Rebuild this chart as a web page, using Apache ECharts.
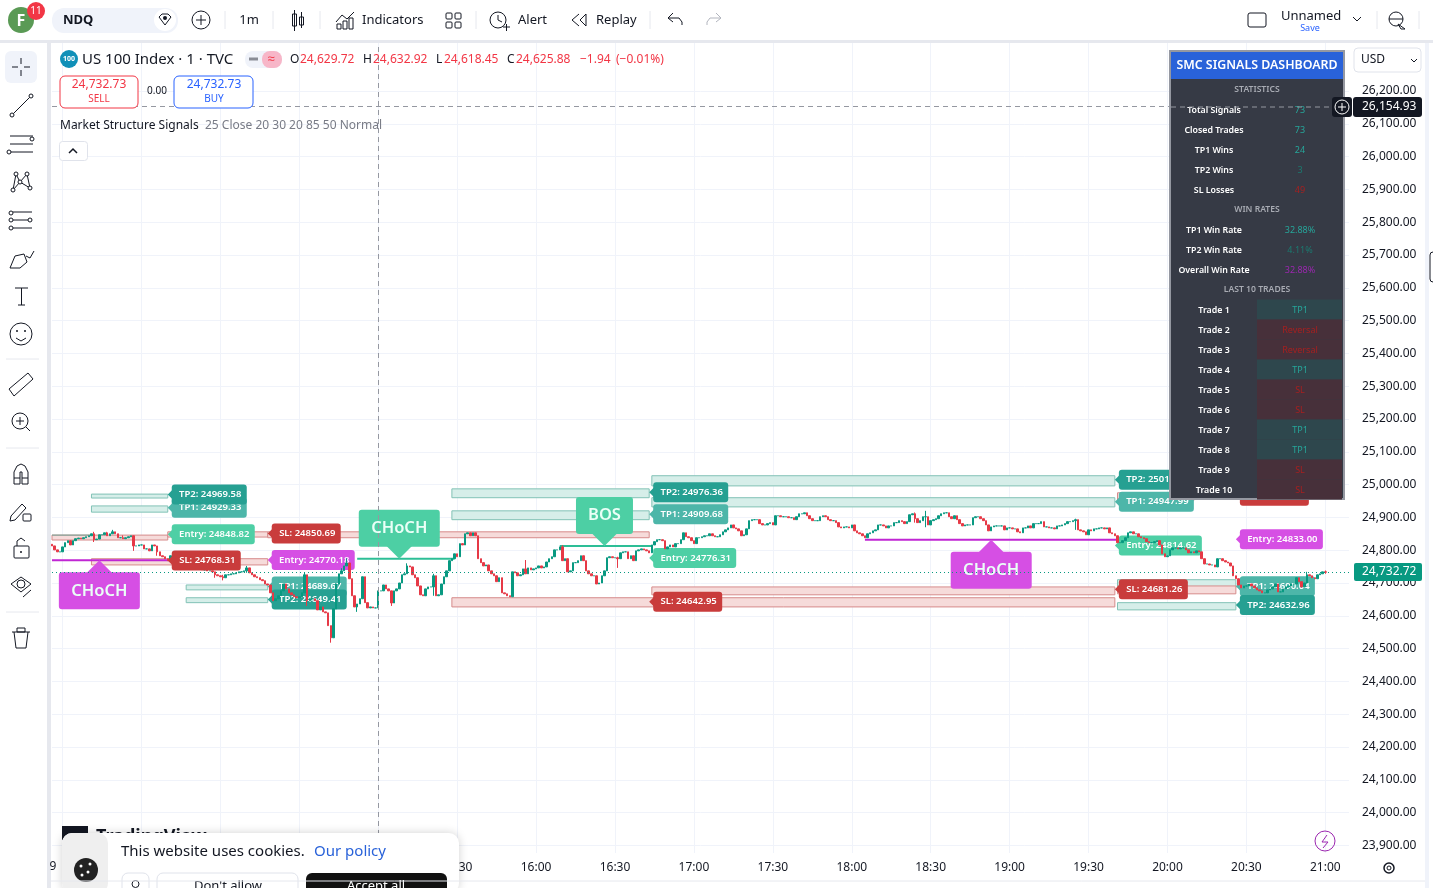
<!DOCTYPE html>
<html>
<head>
<meta charset="utf-8">
<title>US 100 Index</title>
<script src="https://cdn.jsdelivr.net/npm/echarts@6/dist/echarts.min.js"></script>
<style>
html,body{margin:0;padding:0;background:#fff;overflow:hidden}
#chart{width:1433px;height:888px}
</style>
</head>
<body>
<div id="chart"></div>
<script>
// price scale
var priceTicks = [23900,24000,24100,24200,24300,24400,24500,24600,24700,24800,24900,25000,25100,25200,25300,25400,25500,25600,25700,25800,25900,26000,26100,26200];

// 1 minute closes from 12:56 to 21:00
var closes = [
24813,24801,24795,24795,24810,24823,24829,24816,24829,24835,
24837,24835,24838,24841,24844,24850,24832,24834,24847,24847,
24853,24844,24850,24856,24850,24838,24838,24835,24838,24841,
24844,24813,24813,24816,24816,24804,24804,24798,24816,24813,
24795,24783,24780,24774,24768,24783,24786,24789,24780,24771,
24764,24758,24752,24743,24749,24743,24743,24740,24740,24737,
24737,24734,24725,24722,24719,24716,24725,24725,24728,24728,
24731,24734,24734,24737,24746,24731,24725,24719,24716,24710,
24707,24697,24694,24670,24646,24652,24661,24676,24697,24682,
24670,24664,24658,24655,24658,24670,24725,24646,24652,24652,
24646,24618,24627,24612,24609,24570,24533,24621,24697,24728,
24737,24752,24761,24713,24661,24627,24636,24652,24719,24640,
24624,
24627,24624,24624,24676,24676,24694,24682,24676,24639,24676,
24682,24700,24725,24728,24752,24749,24725,24716,24691,24664,
24661,24682,24688,24688,24722,24661,24664,24697,24719,24737,
24768,24774,24789,24780,24820,24816,24850,24853,24844,24853,
24844,24774,24762,24752,24755,24737,24728,24722,24704,24716,
24670,24667,24661,24658,24734,24731,24722,24725,24743,24728,
24746,24740,24743,24746,24752,24746,24749,24764,24774,24780,
24801,24801,24810,24768,24774,24734,24737,24762,24762,24768,
24783,24768,24737,24728,24722,24722,24697,24700,24722,24737,
24777,24780,24777,24777,24774,24792,24795,24795,24774,24783,
24768,24798,24801,24804,24801,24798,24792,24816,24826,24832,
24832,24829,24804,24810,24816,24810,24820,24820,24832,24853,
24841,24838,
24829,24820,24838,24838,24841,24844,24844,24850,24844,24841,
24841,24847,24856,24862,24868,24877,24868,24865,24859,24844,
24847,24865,24890,24893,24893,24893,24881,24877,24877,24881,
24884,24877,24905,24905,24902,24902,24902,24899,24899,24893,
24902,24911,24911,24914,24905,24896,24890,24890,24890,24902,
24905,24902,24893,24890,24890,24884,24871,24868,24871,24871,
24868,24877,24859,24853,24850,24844,24838,24850,24853,24859,
24862,24877,24877,24874,24868,24874,24874,24884,24884,24890,
24887,24881,24887,24908,24911,24896,24884,24890,24902,24902,
24877,24890,24893,24896,24905,24911,24914,24914,24902,24896,
24905,24893,24881,24874,24877,24877,24877,24899,24902,24902,
24896,24890,24877,24859,24871,24874,24874,24874,24874,24862,
24868,
24868,24865,24865,24856,24853,24868,24868,24874,24868,24881,
24881,24881,24887,24871,24871,24868,24868,24865,24874,24874,
24877,24881,24887,24887,24890,24893,24862,24859,24856,24847,
24862,24859,24865,24865,24868,24868,24865,24868,24853,24850,
24844,24823,24823,24829,24838,24853,24856,24850,24850,24841,
24838,24835,24826,24823,24823,24826,24829,24816,24789,24780,
24783,24801,24807,24807,24804,24807,24807,24801,24792,24795,
24792,24798,24795,24774,24758,24758,24755,24755,24749,24774,
24774,24768,24764,24761,24752,24722,24713,24694,24685,24691,
24691,24697,24691,24685,24679,24676,24670,24670,24679,24682,
24688,24697,24673,24673,24682,24688,24691,24697,24697,24716,
24704,24688,24700,24725,24722,24716,24713,24725,24728,24734,
24733
];
var firstOpen = 24818;

// wicks that stand out from the bodies
var wickBars  = [16,21,23,27,31,40,62,65,74,96,97,106,110,112,116,129,135,145,180,194,215,328,332,389,477,484];
var wickLows  = [24825,24844,24850,24835,24798,24783,24716,24708,24731,24670,24630,24518,24730,24752,24612,24630,24752,24661,24728,24768,24746,24884,24870,24862,24716,24728];
var wickHighs = [24856,24856,24862,24845,24816,24813,24725,24725,24752,24731,24725,24570,24745,24775,24627,24676,24760,24728,24770,24815,24780,24915,24920,24896,24734,24738];

var lastPrice = 24732.72;
var crossPrice = 26154.93;
var crossTime = '15:00';

// take profit / stop boxes
var boxStart  = ['13:11','13:11','12:56','13:40','13:11','13:47','13:47','14:18','15:28','15:28','15:28','16:44','16:44','16:44','19:41','19:41','19:41','19:41'];
var boxEnd    = ['13:40','13:40','13:40','14:18','14:18','14:18','14:18','16:43','16:43','16:43','19:40','19:40','19:40','19:40','20:26','20:26','20:26','20:10'];
var boxTop    = [24971,24935,24846,24856,24774,24694,24655,24856,24987,24920,24655,25027,24960,24688,24710,24691,24640,24975];
var boxBottom = [24959,24916,24831,24840,24755,24679,24640,24838,24960,24893,24627,24996,24932,24664,24685,24667,24618,24951];
var boxKind   = ['tp','tp','sl','sl','sl','tp','tp','sl','tp','tp','sl','tp','tp','sl','tp','sl','tp','sl'];

// level tags
var tagText  = ['TP1: 24929.33','TP2: 24969.58','Entry: 24848.82','SL: 24850.69','Entry: 24770.18','TP1: 24689.67','TP2: 24649.41','TP1: 24909.68','TP2: 24976.36','Entry: 24776.31','SL: 24642.95','TP1: 24947.99','TP2: 25014.67','Entry: 24814.62','SL: 24681.26','SL: 24966.27','Entry: 24833.00','TP1: 24690.04','TP2: 24632.96'];
var tagTime  = ['13:40','13:40','13:40','14:18','14:18','14:18','14:18','16:43','16:43','16:43','16:43','19:40','19:40','19:40','19:40','20:26','20:26','20:26','20:26'];
var tagPrice = [24929.33,24969.58,24848.82,24850.69,24770.18,24689.67,24649.41,24909.68,24976.36,24776.31,24642.95,24947.99,25014.67,24814.62,24681.26,24966.27,24833.00,24690.04,24632.96];
var tagKind  = ['tp1','tp2','entry','sl','short','tp1','tp2','tp1','tp2','entry','sl','tp1','tp2','entry','sl','sl','short','tp1','tp2'];
// this one sits above the candles
var topTagText = ['SL: 24768.31'], topTagTime = ['13:40'], topTagPrice = [24768.31], topTagKind = ['sl'];

// structure lines
var lineStart = ['12:56','12:56','14:52','16:09','18:05'];
var lineEnd   = ['13:12','13:41','15:29','16:44','19:41'];
var linePrice = [24846,24769,24774,24813,24832];
var lineKind  = ['base','bear','bull','bull','bear'];

// CHoCH / BOS callouts
var callText  = ['CHoCH','CHoCH','BOS','CHoCH'];
var callTime  = ['13:14','15:08','16:26','18:53'];
var callPrice = [24769,24774,24813,24832];
var callKind  = ['bear','bull','bull','bear'];

// dashboard
var statLabels = ['Total Signals','Closed Trades','TP1 Wins','TP2 Wins','SL Losses'];
var statValues = ['73','73','24','3','49'];
var rateLabels = ['TP1 Win Rate','TP2 Win Rate','Overall Win Rate'];
var rateValues = ['32.88%','4.11%','32.88%'];
var tradeLabels = ['Trade 1','Trade 2','Trade 3','Trade 4','Trade 5','Trade 6','Trade 7','Trade 8','Trade 9','Trade 10'];
var tradeResults = ['TP1','Reversal','Reversal','TP1','SL','SL','TP1','TP1','SL','SL'];

var FONT = '"Noto Sans", sans-serif';
var GREEN = '#089981', RED = '#f23645', INK = '#131722', CROSS = '#9598a1';
var TAG_COLORS = {tp1:'#4db6a9', tp2:'#26a092', entry:'#4ecfa5', sl:'#c93c3c', short:'#d64fe4'};
var TAG_WIDTHS = {tp1:79, tp2:79, entry:87, sl:73, short:87};

// time axis, one bar per minute
var times = [];
for (var m = 12*60+56; m <= 21*60+9; m++) {
  times.push(('0'+Math.floor(m/60)).slice(-2)+':'+('0'+(m%60)).slice(-2));
}
function timeIdx(t){ return times.indexOf(t); }

var candles = closes.map(function(c,i){
  var o = i ? closes[i-1] : firstOpen;
  var w = wickBars.indexOf(i);
  var lo = Math.min(o,c), hi = Math.max(o,c);
  if (w >= 0) { lo = Math.min(lo,wickLows[w]); hi = Math.max(hi,wickHighs[w]); }
  return [o,c,lo,hi];
});

function isHalfHour(i,v){ return v.slice(-2)==='00' || v.slice(-2)==='30'; }

function renderBox(params,api){
  var a = api.coord([api.value(0),api.value(2)]);
  var b = api.coord([api.value(1),api.value(3)]);
  var tp = boxKind[params.dataIndex]==='tp';
  return {type:'rect',shape:{x:a[0],y:a[1],width:b[0]-a[0],height:b[1]-a[1]},
    style:{fill:tp?'#d6eee9':'#f6dbda',stroke:tp?'#82c2b6':'#d68b8b',lineWidth:1}};
}

function makeTagRenderer(texts,kinds){
  return function(params,api){
    var p = api.coord([api.value(0),api.value(1)]);
    var kind = kinds[params.dataIndex], w = TAG_WIDTHS[kind], col = TAG_COLORS[kind];
    return {type:'group',children:[
      {type:'polygon',shape:{points:[[p[0],p[1]],[p[0]+6,p[1]-6],[p[0]+6,p[1]+6]]},style:{fill:col}},
      {type:'rect',shape:{x:p[0]+4,y:p[1]-10,width:w-4,height:20,r:3},style:{fill:col}},
      {type:'text',x:p[0]+(w+6)/2,y:p[1],style:{text:texts[params.dataIndex],fill:'#fff',font:'600 9.5px '+FONT,align:'center',verticalAlign:'middle'}}
    ]};
  };
}

function renderLine(params,api){
  var a = api.coord([api.value(0),api.value(2)]);
  var b = api.coord([api.value(1),api.value(2)]);
  var kind = lineKind[params.dataIndex];
  var col = kind==='bear' ? '#c026d3' : kind==='bull' ? '#2dbe96' : '#6fa89a';
  return {type:'line',shape:{x1:a[0],y1:a[1],x2:b[0],y2:b[1]},style:{stroke:col,lineWidth:kind==='base'?1:2}};
}

function renderCall(params,api){
  var p = api.coord([api.value(0),api.value(1)]);
  var i = params.dataIndex, bear = callKind[i]==='bear';
  var w = callText[i]==='BOS' ? 57 : 81, h = 37;
  var col = bear ? '#d64fe4' : '#4dcfa4';
  var dir = bear ? 1 : -1;
  var near = p[1]+dir*12, mid = near+dir*h/2;
  return {type:'group',children:[
    {type:'polygon',shape:{points:[[p[0],p[1]],[p[0]-13,near+dir],[p[0]+13,near+dir]]},style:{fill:col}},
    {type:'rect',shape:{x:p[0]-w/2,y:mid-h/2,width:w,height:h,r:3},style:{fill:col}},
    {type:'text',x:p[0],y:mid,style:{text:callText[i],fill:'#eafff7',font:'600 16.5px '+FONT,align:'center',verticalAlign:'middle'}}
  ]};
}

// chrome helpers
var ui = [];
var Z = 100;
function T(s,x,y,size,col,align,weight){
  ui.push({type:'text',z:Z,silent:true,x:x,y:y+1,style:{text:s,fill:col||INK,font:(weight||'400')+' '+size+'px '+FONT,align:align||'left',verticalAlign:'middle'}});
}
function L(x1,y1,x2,y2,col,w,dash){
  ui.push({type:'line',z:Z,silent:true,shape:{x1:x1,y1:y1,x2:x2,y2:y2},style:{stroke:col||INK,lineWidth:w||1,lineDash:dash||null}});
}
function R(x,y,w,h,fill,stroke,r,lw,shadow){
  ui.push({type:'rect',z:Z,silent:true,shape:{x:x,y:y,width:w,height:h,r:r||0},style:{fill:fill||'none',stroke:stroke||null,lineWidth:lw||1,shadowBlur:shadow||0,shadowColor:'rgba(0,0,0,0.18)'}});
}
function C(x,y,r,fill,stroke,lw){
  ui.push({type:'circle',z:Z,silent:true,shape:{cx:x,cy:y,r:r},style:{fill:fill||'none',stroke:stroke||null,lineWidth:lw||1}});
}
function P(pts,col,fill,w){
  ui.push({type:fill?'polygon':'polyline',z:Z,silent:true,shape:{points:pts},style:{stroke:col||INK,fill:fill||'none',lineWidth:w||1}});
}

// top bar
R(0,40,1433,3,'#e6e8ee');
R(47,40,4,848,'#e6e8ee');
C(21,20,13,'#5a9a55');
T('F',21,20,16,'#fff','center','700');
C(36,11,9,'#f23645');
T('11',36,10,10,'#fff','center');
R(52,8,126,25,'#f0f3fa',null,12);
T('NDQ',63,19,13,INK,'left','700');
C(165,20,11,'#fff');
P([[159,17],[162,14],[168,14],[171,17],[165,25],[159,17]],INK);
C(165,18,2,INK);
C(201,20,9,null,INK);
L(196,20,206,20); L(201,15,201,25);
L(225,11,225,29,'#e6e8ee');
T('1m',249,19,13,INK,'center');
L(273,11,273,29,'#e6e8ee');
R(292.5,14,4,12,null,INK); L(294.5,10,294.5,31); R(299.5,17,4,8,null,INK); L(301.5,12,301.5,28);
L(320,11,320,29,'#e6e8ee');
P([[336,22],[342,15],[347,19],[354,12]],INK);
R(337,24,4,5,null,INK); R(343,21,4,8,null,INK); R(349,18,4,11,null,INK);
T('Indicators',362,19,13,INK);
R(446,13,6,6,null,INK,1); R(455,13,6,6,null,INK,1); R(446,22,6,6,null,INK,1); R(455,22,6,6,null,INK,1);
L(476,11,476,29,'#e6e8ee');
C(498,20,8,null,INK); P([[498,15],[498,20],[502,22]],INK); L(503,27,510,27); L(506.5,24,506.5,31);
T('Alert',518,19,13,INK);
P([[579,14],[572,20],[579,26]],INK); P([[586,14],[580,20],[586,26],[586,14]],INK);
T('Replay',596,19,13,INK);
L(650,11,650,29,'#e6e8ee');
P([[673,13],[668,18],[673,22]],INK); P([[668,18],[679,18],[682,22],[682,25]],INK);
P([[716,13],[721,18],[716,22]],'#b2b5be'); P([[721,18],[710,18],[707,22],[707,25]],'#b2b5be');
R(1248,13,18,14,null,INK,2);
T('Unnamed',1281,15,13,INK);
T('Save',1310,27,9,'#2962ff','center');
P([[1353,17],[1357,21],[1361,17]],INK);
L(1377,11,1377,29,'#e6e8ee');
C(1396,19,7,null,INK); L(1389,19,1403,19); P([[1398,24],[1405,29],[1401,29],[1398,24]],INK);
L(1419,11,1419,29,'#e6e8ee');

// left tools
R(5,51,32,32,'#f0f3fa',null,6);
L(21,58,21,64); L(21,70,21,76); L(12,67,18,67); L(24,67,30,67);
L(13,114,30,97); C(12,115,2,'#fff',INK); C(31,96,2,'#fff',INK);
L(10,136,33,136); L(10,144,33,144); L(10,152,33,152); C(32,139,2,'#fff',INK); C(9,152,2,'#fff',INK);
P([[13,190],[16,174],[20,182],[27,174],[30,188],[20,182],[13,190]],INK); C(16,174,2,'#fff',INK); C(27,174,2,'#fff',INK); C(13,190,2,'#fff',INK); C(30,188,2,'#fff',INK); C(20,182,2,'#fff',INK);
L(13,212,32,212); L(13,220,32,220); L(13,228,32,228); C(11,213,2,'#fff',INK); C(11,220,2,'#fff',INK); C(30,220,2,'#fff',INK); C(11,228,2,'#fff',INK);
P([[10,268],[15,256],[24,254],[27,262],[20,268],[10,268]],INK); P([[26,256],[30,258],[34,251]],INK);
L(15,288,28,288); L(21.5,288,21.5,305); L(18,305,25,305);
C(21,334,11,null,INK); C(17,331,1,INK); C(25,331,1,INK); P([[16,338],[21,341],[26,338]],INK);
L(6,359,39,359,'#e6e8ee');
P([[9,389],[28,373],[33,379],[14,396],[9,389]],INK);
C(20,421,8,null,INK); L(16,421,24,421); L(20,417,20,425); L(26,427,30,431);
L(6,448,39,448,'#e6e8ee');
P([[14,484],[14,472],[17,466],[21,464],[25,466],[28,472],[28,484],[22,484],[22,472],[20,472],[20,484],[14,484]],INK); L(14,478,20,478); L(22,478,28,478);
P([[11,516],[22,504],[26,508],[15,520],[10,521],[11,516]],INK); R(23,514,8,7,null,INK,1);
R(14,546,15,12,null,INK,1); P([[17,546],[17,541],[21,538],[25,541]],INK); C(21,552,1,INK);
P([[11,584],[21,577],[31,584],[21,592],[11,584]],INK); C(21,584,4,null,INK); L(23,597,31,590);
L(6,612,39,612,'#e6e8ee');
L(12,632,30,632); R(17,628,8,4,null,INK); P([[14,632],[16,648],[26,648],[28,632]],INK);

// legend
C(69,59,9,'#1090b8');
T('100',69,58,7,'#fff','center','700');
T('US 100 Index \u00b7 1 \u00b7 TVC',82,59,15,INK);
R(245,51,37,17,'#f0f3fa',null,8); R(262,51,20,17,'#f7b6c8',null,8);
L(249,59,258,59,'#8a8d96',3);
T('\u2248',271,58,13,RED,'center');
var ohlcLetters = ['O','H','L','C'], ohlcValues = ['24,629.72','24,632.92','24,618.45','24,625.88'], ohlcX = [290,363,436,507], ohlcGap = [10,10,8,9];
ohlcLetters.forEach(function(s,i){ T(s,ohlcX[i],59,12,INK); T(ohlcValues[i],ohlcX[i]+ohlcGap[i],59,12,RED); });
T('\u22121.94',580,59,12,RED);
T('(\u22120.01%)',616,59,12,RED);
R(60,76,78,32,'#fff',RED,5);
T('24,732.73',99,84,12,RED,'center'); T('SELL',99,98,10,RED,'center');
T('0.00',157,90,10,INK,'center');
R(174,76,79,32,'#fff','#2962ff',5);
T('24,732.73',214,84,12,'#2962ff','center'); T('BUY',214,98,10,'#2962ff','center');
T('Market Structure Signals',60,125,12,INK);
T('25 Close 20 30 20 85 50 Normal',205,125,12,'#787b86');
R(59.5,141.5,28,19,'#fff','#e0e3eb',3);
P([[69,153],[73,149],[77,153]],INK,null,1.5);

// right side
R(1354,48,67,24,'#fff','#e0e3eb',4);
T('USD',1361,59,12,INK);
P([[1411,59],[1414,62],[1417,59]],INK);
R(1425,43,4,845,'#f0f3fa');
R(1430,252,6,30,'#fff',INK,4);
R(1354,563,68,18,GREEN,null,2);
T('24,732.72',1362,571,12,'#fff');
C(1325,841,10,null,'#9c27b0');
P([[1327,835],[1322,842],[1328,842],[1323,848]],'#9c27b0');
C(1389,868,5,null,INK,1.5); C(1389,868,2,null,INK);

// dashboard
R(1170,51,174,448,'#363a45','#9598a1',0,2);
R(1171,52,172,27,'#2962d9');
T('SMC SIGNALS DASHBOARD',1257,64,12.4,'#fff','center','600');
function rowY(n){ return 89+20*n; }
function sectionRow(s,n){ T(s,1257,rowY(n),8.6,'#a8abb3','center','600'); }
function row(label,value,n,col){
  T(label,1214,rowY(n),8.8,'#fff','center','600');
  T(value,1300,rowY(n),9,col,'center');
}
sectionRow('STATISTICS',0);
var statColors = ['#26a69a','#26a69a','#26a69a','#1b7a70','#a52020'];
statLabels.forEach(function(s,i){ row(s,statValues[i],i+1,statColors[i]); });
sectionRow('WIN RATES',6);
var rateColors = ['#26a69a','#1b7a70','#9c27b0'];
rateLabels.forEach(function(s,i){ row(s,rateValues[i],i+7,rateColors[i]); });
sectionRow('LAST 10 TRADES',10);
tradeLabels.forEach(function(s,i){
  var win = tradeResults[i]==='TP1';
  R(1257,rowY(i+11)-9.5,85,20,win?'#2e474d':'#47303a');
  row(s,tradeResults[i],i+11,win?'#26a69a':'#a52020');
});

// crosshair on top of the dashboard, with its price button
L(1171,107,1332,107,CROSS,1,[5,4]);
R(1332,97,20,20,'#131722',null,3);
C(1342,107,7,null,'#fff');
L(1338,107,1346,107,'#fff'); L(1342,103,1342,111,'#fff');
R(1353,97,69,20,'#131722',null,3);
T('26,154.93',1362,106,12,'#fff');

// watermark and cookie notice
R(62,826,26,14,INK);
T('TradingView',96,836,18,INK,'left','700');
R(62,833,397,60,'#fff',null,10,1,10);
R(62,833,46,60,'#efefef',null,10);
C(86,870,12,'#222');
C(81,866,1.5,'#fff'); C(88,872,1.5,'#fff'); C(82,875,1.5,'#fff'); C(90,864,1.5,'#fff');
T('This website uses cookies.',121,851,15,INK);
T('Our policy',314,851,15,'#2962d9');
R(122,873,27,24,'#fff','#e0e3eb',6);
C(135.5,884,3.5,null,INK);
R(157,873,141,24,'#fff','#e0e3eb',6);
T("Don't allow",228,885,13,INK,'center');
R(306,873,141,24,'#111',null,6);
T('Accept all',376,885,13,'#fff','center');
T('9',53,866,12,INK,'center');
L(51,881,1425,881,'#e6e8ee');

var chart = echarts.init(document.getElementById('chart'));
chart.setOption({
  animation:false,
  backgroundColor:'#fff',
  grid:{left:52,right:84,top:43,bottom:35},
  xAxis:{
    type:'category',data:times,boundaryGap:false,
    axisLine:{show:false},axisTick:{show:false},
    axisLabel:{margin:9,color:INK,fontSize:12,fontFamily:FONT,
      interval:function(i,v){ return i>=timeIdx('15:30') && isHalfHour(i,v); }},
    splitLine:{show:true,interval:isHalfHour,lineStyle:{color:'#f0f3fa'}}
  },
  yAxis:{
    type:'value',position:'right',min:23876.8,max:26346.3,scale:true,
    axisLine:{show:false},
    axisTick:{show:false,customValues:priceTicks},
    axisLabel:{customValues:priceTicks,margin:13,color:INK,fontSize:12,fontFamily:FONT,
      formatter:function(v){ return v.toLocaleString('en-US',{minimumFractionDigits:2}); }},
    splitLine:{show:true,lineStyle:{color:'#f0f3fa'}}
  },
  series:[
    {type:'custom',z:1,coordinateSystem:'cartesian2d',renderItem:renderBox,silent:true,
      data:boxStart.map(function(s,i){ return [timeIdx(s),timeIdx(boxEnd[i]),boxTop[i],boxBottom[i]]; })},
    {type:'custom',z:1,renderItem:renderLine,silent:true,
      data:lineStart.map(function(s,i){ return [timeIdx(s),timeIdx(lineEnd[i]),linePrice[i]]; })},
    {type:'custom',z:1,renderItem:makeTagRenderer(tagText,tagKind),silent:true,
      data:tagTime.map(function(t,i){ return [timeIdx(t),tagPrice[i]]; })},
    {type:'custom',z:1,renderItem:renderCall,silent:true,
      data:callTime.map(function(t,i){ return [timeIdx(t),callPrice[i]]; })},
    {type:'candlestick',z:2,data:candles,barWidth:2,silent:true,large:false,progressive:0,
      itemStyle:{color:GREEN,color0:'#e63946',borderColor:GREEN,borderColor0:'#e63946',borderWidth:1},
      markLine:{silent:true,symbol:'none',animation:false,label:{show:false},data:[
        {yAxis:lastPrice,lineStyle:{color:GREEN,type:[1,3],width:1}},
        {yAxis:crossPrice,lineStyle:{color:CROSS,type:[5,4],width:1}},
        {xAxis:crossTime,lineStyle:{color:CROSS,type:[5,4],width:1}}
      ]}},
    {type:'custom',z:3,renderItem:makeTagRenderer(topTagText,topTagKind),silent:true,
      data:topTagTime.map(function(t,i){ return [timeIdx(t),topTagPrice[i]]; })}
  ],
  graphic:{elements:ui}
});
window.addEventListener('resize',function(){ chart.resize(); });
</script>
</body>
</html>
